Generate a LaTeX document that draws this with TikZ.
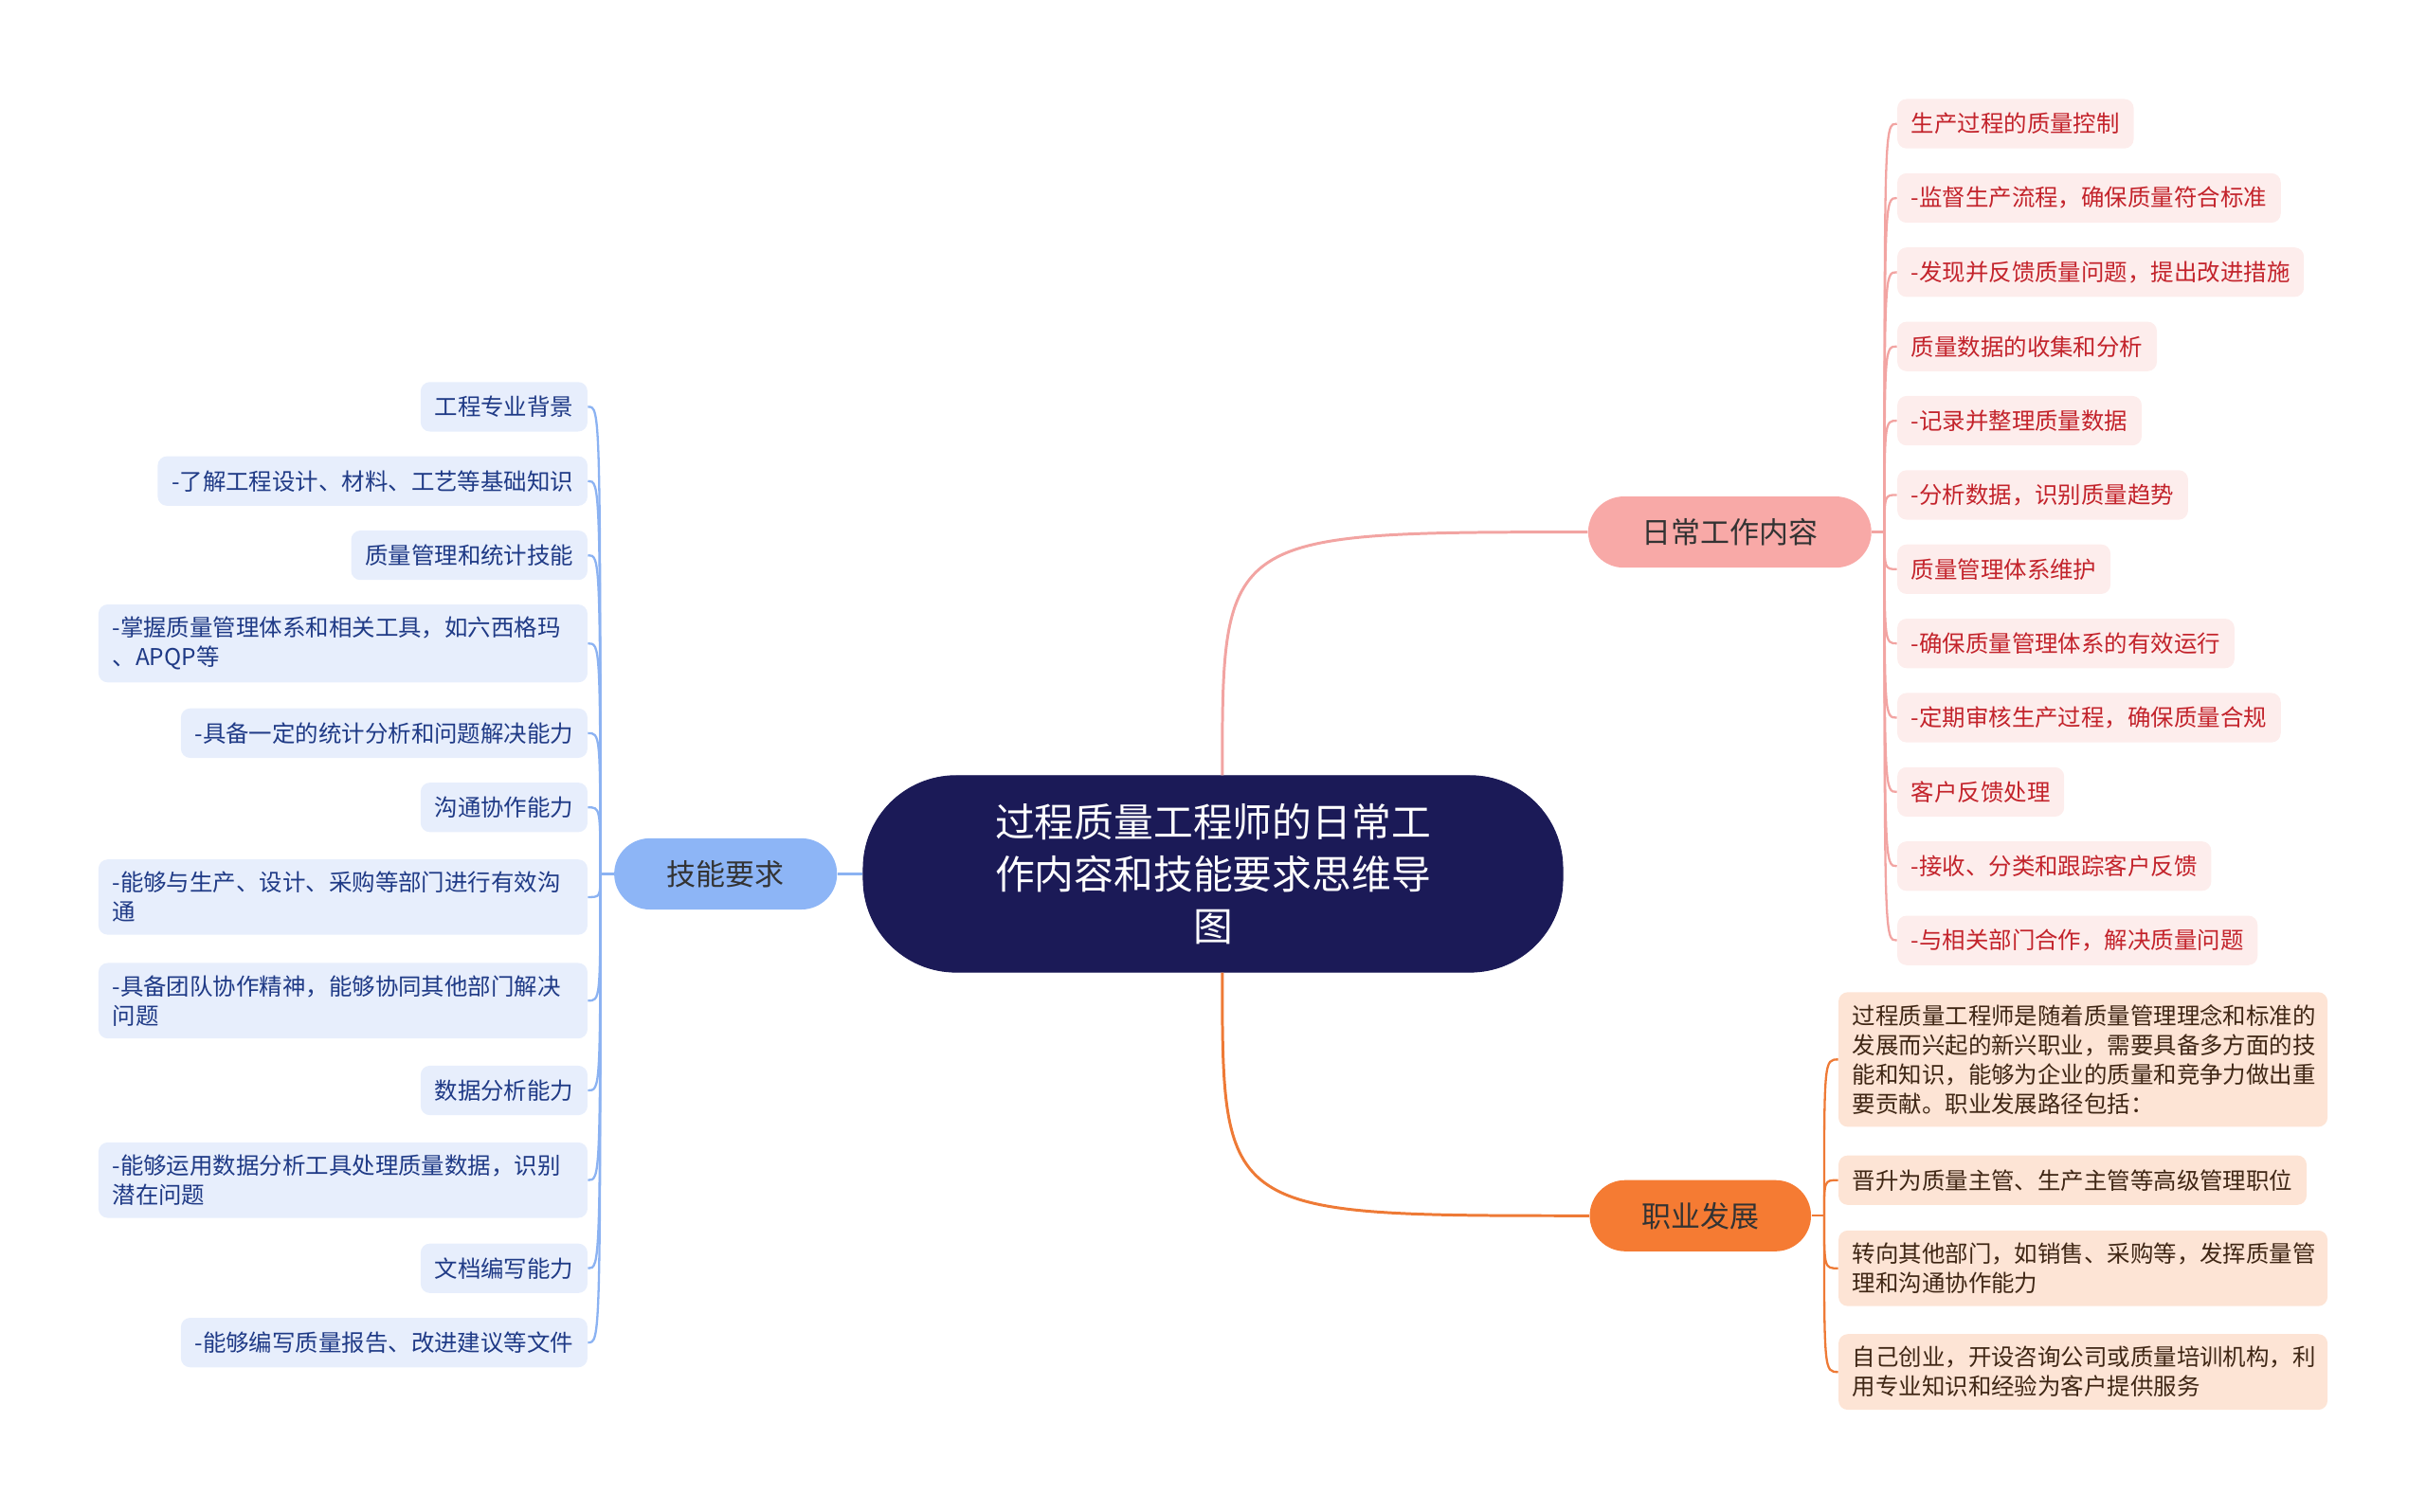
\documentclass[tikz,border=0pt]{standalone}
\usepackage{fontspec}
\setmainfont{Noto Sans CJK SC}
\tikzset{>=latex}
\definecolor{rootcol}{HTML}{1B1A57}
\definecolor{dailycol}{HTML}{F8A9A7}
\definecolor{dailylinecol}{HTML}{F2A4A2}
\definecolor{dailyleafcol}{HTML}{FDEDEC}
\definecolor{dailytextcol}{HTML}{C3232B}
\definecolor{skillcol}{HTML}{8DB5F6}
\definecolor{skilllinecol}{HTML}{8BB2F2}
\definecolor{skillleafcol}{HTML}{E7EEFC}
\definecolor{skilltextcol}{HTML}{1F3A86}
\definecolor{careercol}{HTML}{F57B33}
\definecolor{careerlinecol}{HTML}{EE7A36}
\definecolor{careerleafcol}{HTML}{FDE4D5}
\definecolor{careertextcol}{HTML}{3F2614}
\tikzset{
  rootnode/.style={fill=rootcol, draw=rootcol, rounded corners=1.5cm, minimum width=11.3cm,
    minimum height=3.175cm, align=center, text=white, font=\fontsize{18.2pt}{24pt}\selectfont},
  branch/.style={rounded corners=0.575cm, minimum height=1.15cm, text=black!80,
    font=\fontsize{13.5pt}{16pt}\selectfont},
  leaf/.style={rounded corners=0.15cm, inner xsep=0.225cm, inner ysep=0.2cm, minimum height=0.8cm,
    align=left, font=\fontsize{10.65pt}{13.5pt}\selectfont},
  wide/.style={text width=7.45cm},
  dailybox/.style={leaf, fill=dailyleafcol, text=dailytextcol, anchor=west},
  skillbox/.style={leaf, fill=skillleafcol, text=skilltextcol, anchor=east},
  careerbox/.style={leaf, fill=careerleafcol, text=careertextcol, anchor=west},
  dailyedge/.style={draw=dailylinecol, line width=1pt},
  skilledge/.style={draw=skilllinecol, line width=1pt},
  careeredge/.style={draw=careerlinecol, line width=1pt}
}
\begin{document}
\begin{tikzpicture}[x=0.025cm,y=-0.025cm]
  \useasboundingbox (0,0) rectangle (1568,977);
  \node[rootnode] (root) at (784,565) {过程质量工程师的日常工\\作内容和技能要求思维导\\图};
  \node[branch, fill=dailycol, minimum width=4.575cm] (daily) at (1118,344) {日常工作内容};
  \node[branch, fill=skillcol, minimum width=3.6cm] (skill) at (469,565) {技能要求};
  \node[branch, fill=careercol, minimum width=3.575cm] (career) at (1099,786) {职业发展};
  \coordinate (rtop) at ([xshift=0.15cm]root.north);
  \coordinate (rbot) at ([xshift=0.15cm]root.south);
  \draw[dailyedge, line width=1.3pt] (rtop) .. controls (rtop |- daily.west) .. (daily.west);
  \draw[careeredge, line width=1.3pt] (rbot) .. controls (rbot |- career.west) .. (career.west);
  \draw[skilledge, line width=1.3pt] (root.west) -- (skill.east);

  \foreach \i/\y/\txt in {1/80/生产过程的质量控制, 2/128/-监督生产流程，确保质量符合标准,
      3/176/-发现并反馈质量问题，提出改进措施, 4/224/质量数据的收集和分析,
      5/272/-记录并整理质量数据, 6/320/-分析数据，识别质量趋势, 7/368/质量管理体系维护,
      8/416/-确保质量管理体系的有效运行, 9/464/-定期审核生产过程，确保质量合规,
      10/512/客户反馈处理, 11/560/-接收、分类和跟踪客户反馈, 12/608/-与相关部门合作，解决质量问题}
    \node[dailybox] (d\i) at (1226,\y) {\txt};

  \foreach \i/\y/\txt in {1/263/工程专业背景, 2/311/-了解工程设计、材料、工艺等基础知识,
      3/359/质量管理和统计技能, 5/474/-具备一定的统计分析和问题解决能力, 6/522/沟通协作能力,
      9/705/数据分析能力, 11/820/文档编写能力, 12/868/-能够编写质量报告、改进建议等文件}
    \node[skillbox] (s\i) at (380,\y) {\txt};
  \foreach \i/\y/\txt in {4/416/{-掌握质量管理体系和相关工具，如六西格玛\\、APQP等},
      7/580/{-能够与生产、设计、采购等部门进行有效沟\\通},
      8/647/{-具备团队协作精神，能够协同其他部门解决\\问题},
      10/763/{-能够运用数据分析工具处理质量数据，识别\\潜在问题}}
    \node[skillbox, wide] (s\i) at (380,\y) {\txt};

  \node[careerbox, wide] (c1) at (1188,685) {过程质量工程师是随着质量管理理念和标准的\\发展而兴起的新兴职业，需要具备多方面的技\\能和知识，能够为企业的质量和竞争力做出重\\要贡献。职业发展路径包括：};
  \node[careerbox] (c2) at (1188,763) {晋升为质量主管、生产主管等高级管理职位};
  \node[careerbox, wide] (c3) at (1188,820) {转向其他部门，如销售、采购等，发挥质量管\\理和沟通协作能力};
  \node[careerbox, wide] (c4) at (1188,887) {自己创业，开设咨询公司或质量培训机构，利\\用专业知识和经验为客户提供服务};

  \coordinate (dj) at (1218,344);
  \coordinate (sj) at (388,565);
  \coordinate (cj) at (1179,786);
  \draw[dailyedge] (daily.east) -- (dj);
  \draw[skilledge] (skill.west) -- (sj);
  \draw[careeredge] (career.east) -- (cj);
  \foreach \i in {1,...,12}
    \draw[dailyedge] (dj) .. controls (dj |- d\i.west) .. (d\i.west);
  \foreach \i in {1,...,12}
    \draw[skilledge] (sj) .. controls (sj |- s\i.east) .. (s\i.east);
  \foreach \i in {1,...,4}
    \draw[careeredge] (cj) .. controls (cj |- c\i.west) .. (c\i.west);
\end{tikzpicture}
\end{document}
